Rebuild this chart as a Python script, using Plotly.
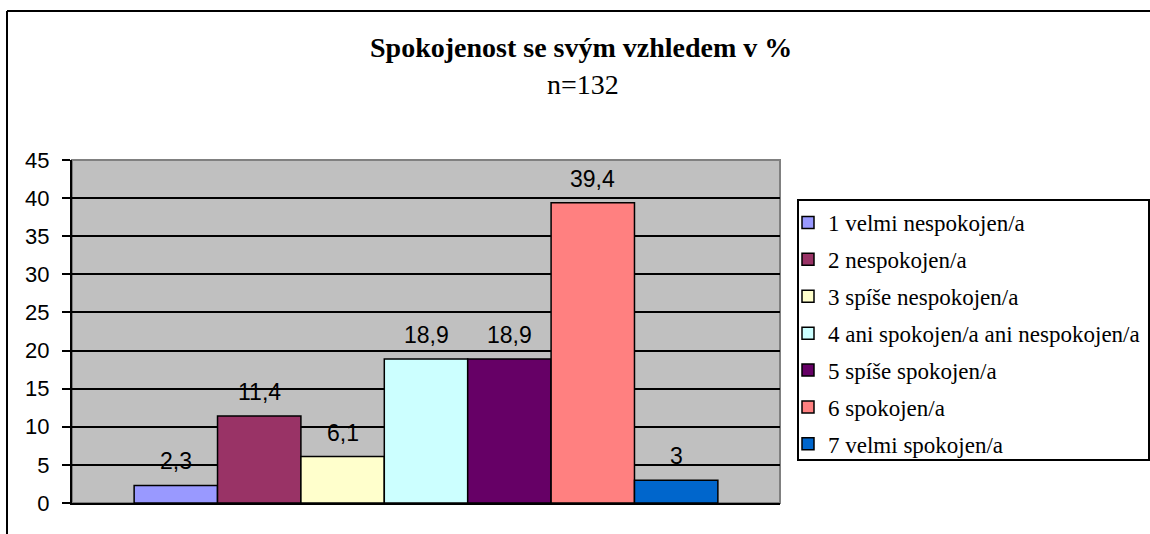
import plotly.graph_objects as go

# ---- data ----
categories = [
    "1 velmi nespokojen/a",
    "2 nespokojen/a",
    "3 spíše nespokojen/a",
    "4 ani spokojen/a ani nespokojen/a",
    "5 spíše spokojen/a",
    "6 spokojen/a",
    "7 velmi spokojen/a",
]
values = [2.3, 11.4, 6.1, 18.9, 18.9, 39.4, 3]
value_labels = ["2,3", "11,4", "6,1", "18,9", "18,9", "39,4", "3"]
colors = ["#9999FF", "#993366", "#FFFFCC", "#CCFFFF", "#660066", "#FF8080", "#0066CC"]
y_ticks = [0, 5, 10, 15, 20, 25, 30, 35, 40, 45]

title_text = "<b>Spokojenost se svým vzhledem v %</b>"
subtitle_text = "n=132"

# ---- layout geometry (pixels, page coordinates; body margin removed) ----
W, H = 1150, 534
L, R, T, B = 72, 780, 160, 503
pw, ph = R - L, B - T

def px_x(p):
    return (p - L) / pw

def px_y(p):
    return (B - p) / ph

fig = go.Figure()
for i, (cat, val, col) in enumerate(zip(categories, values, colors)):
    fig.add_trace(go.Bar(
        x=[i], y=[val], name=cat, width=1,
        marker=dict(color=col, line=dict(color="black", width=1.5)),
        legendgroup=cat,
    ))

annotations = []
for i, (val, lab) in enumerate(zip(values, value_labels)):
    annotations.append(dict(
        x=i, y=val, xref="x", yref="y", text=lab, showarrow=False,
        yanchor="bottom", yshift=9,
        font=dict(family="Liberation Sans, Arial", size=23, color="black"),
    ))

annotations.append(dict(
    x=px_x(581), y=px_y(47), xref="paper", yref="paper", text=title_text,
    showarrow=False, xanchor="center", yanchor="middle",
    font=dict(family="Liberation Serif, Times New Roman", size=28, color="black"),
))
annotations.append(dict(
    x=px_x(583), y=px_y(84), xref="paper", yref="paper", text=subtitle_text,
    showarrow=False, xanchor="center", yanchor="middle",
    font=dict(family="Liberation Serif, Times New Roman", size=28, color="black"),
))

shapes = [
    # plot area border (gray)
    dict(type="rect", xref="paper", yref="paper", x0=0, y0=0, x1=1, y1=1,
         line=dict(color="#808080", width=2), layer="below"),
    # outer chart border (left and top)
    dict(type="line", xref="paper", yref="paper", x0=px_x(7), y0=px_y(11),
         x1=px_x(7), y1=px_y(560), line=dict(color="black", width=2)),
    dict(type="line", xref="paper", yref="paper", x0=px_x(7), y0=px_y(11),
         x1=px_x(1170), y1=px_y(11), line=dict(color="black", width=2)),
    # legend box
    dict(type="rect", xref="paper", yref="paper", x0=px_x(798), y0=px_y(200),
         x1=px_x(1149), y1=px_y(460), fillcolor="white",
         line=dict(color="black", width=2)),
]

fig.update_layout(
    width=W, height=H,
    margin=dict(l=L, r=W - R, t=T, b=H - B, pad=0, autoexpand=False),
    paper_bgcolor="white",
    plot_bgcolor="#C0C0C0",
    barmode="overlay",
    showlegend=True,
    legend=dict(
        x=px_x(788), y=px_y(201), xanchor="left", yanchor="top",
        bgcolor="rgba(0,0,0,0)", borderwidth=0,
        font=dict(family="Liberation Serif, Times New Roman", size=23, color="black"),
        traceorder="grouped", tracegroupgap=4,
        itemclick=False,
    ),
    annotations=annotations,
    shapes=shapes,
    xaxis=dict(
        range=[-1.245, 7.245], showticklabels=False, ticks="",
        showgrid=False, zeroline=False,
        showline=True, linecolor="black", linewidth=2,
    ),
    yaxis=dict(
        range=[0, 45], tickvals=y_ticks, ticktext=[str(t) for t in y_ticks],
        showgrid=True, gridcolor="black", gridwidth=2, zeroline=False,
        showline=True, linecolor="black", linewidth=2,
        ticks="outside", ticklen=8, tickcolor="black", tickwidth=2,
        ticklabelstandoff=8,
        tickfont=dict(family="Liberation Sans, Arial", size=22, color="black"),
    ),
)

fig.write_html(
    "out.html",
    config={"displayModeBar": False},
    post_script="document.body.style.margin='0';"
                "document.documentElement.style.overflow='hidden';",
)
